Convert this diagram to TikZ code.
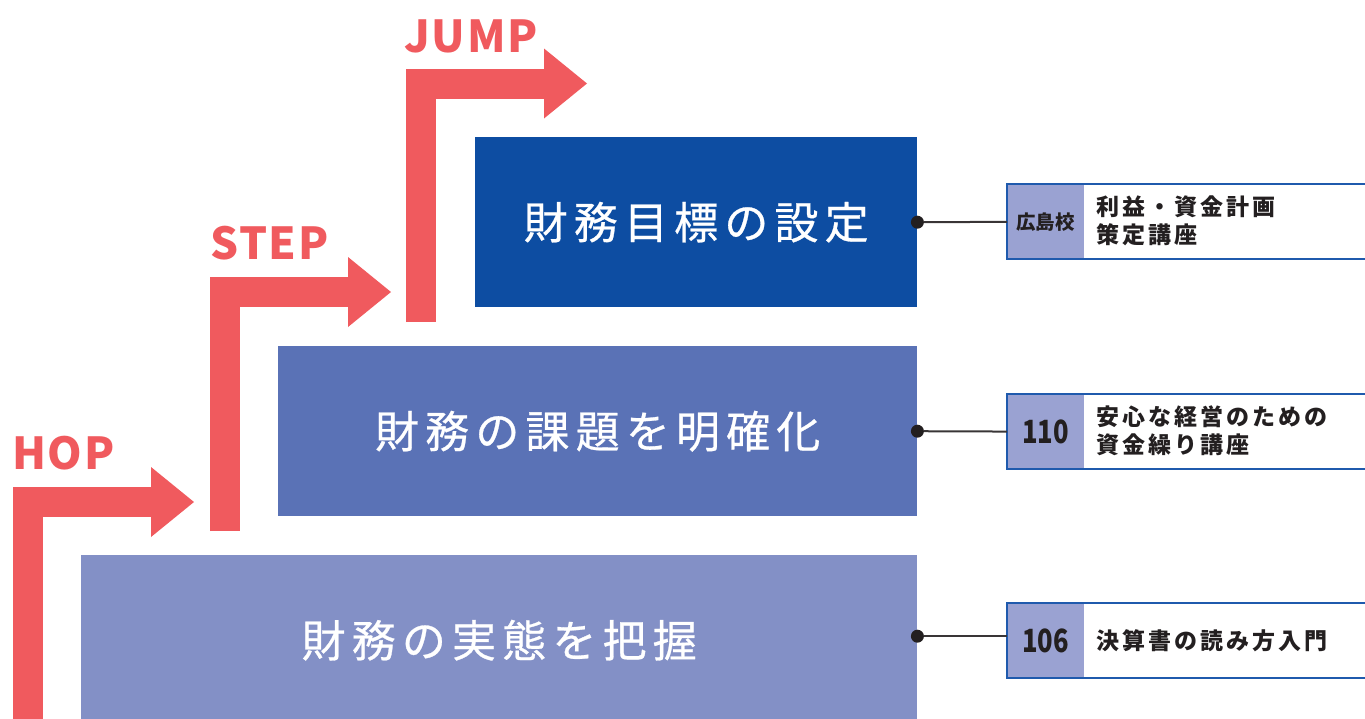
\documentclass[tikz,border=0pt]{standalone}
\usepackage{fontspec}
\setmainfont{Noto Sans CJK JP}
\newfontfamily\stagefont[LetterSpace=14,FakeBold=0.6]{Noto Sans CJK JP}
\newfontfamily\hopfont[LetterSpace=4]{Noto Sans CJK JP}
\newfontfamily\cardfont[LetterSpace=13]{Noto Sans CJK JP}
\newfontfamily\numfont[FakeStretch=0.8]{Noto Sans CJK JP}
\usetikzlibrary{arrows.meta,positioning}

\definecolor{hopred}{HTML}{F05A5E}
\definecolor{goalblue}{HTML}{0D4DA2}
\definecolor{issueblue}{HTML}{5A72B6}
\definecolor{stateblue}{HTML}{8390C6}
\definecolor{tagblue}{HTML}{9AA2D2}
\definecolor{framebl}{HTML}{1F5AAD}
\definecolor{ink}{HTML}{231F20}

\begin{document}
\begin{tikzpicture}[x=1pt, y=-1pt,
	stepline/.style={draw=hopred, line width=30pt, line join=miter, -{Triangle[length=43pt,width=70pt,line width=0pt]}},
	steplabel/.style={anchor=base west, inner sep=0pt, text=hopred, font=\hopfont\bfseries\fontsize{44}{44}\selectfont},
	stagebox/.style={anchor=north west, inner sep=0pt, text=white, minimum height=170pt, font=\stagefont\fontsize{44}{44}\selectfont},
	dot/.style={circle, fill=ink, inner sep=0pt, minimum size=13pt},
	link/.style={draw=ink!90, line width=2pt},
	cardtag/.style={anchor=north west, fill=tagblue, inner sep=0pt, minimum width=77pt, minimum height=75pt, text=ink},
	cardtext/.style={anchor=west, inner sep=0pt, align=left, text=ink, font=\cardfont\bfseries\fontsize{23}{28}\selectfont},
	cardframe/.style={draw=framebl, line width=1.6pt}]
	\useasboundingbox (0,0) rectangle (1365,718);
	% hop step jump arrows
	\draw[stepline] (28,730) |- (194,502);
	\draw[stepline] (224.5,531) |- (391,292);
	\draw[stepline] (421,322) |- (587,83.5);
	\node[steplabel] (hop) at (12,469) {HOP};
	\node[steplabel] (step) at (210,259) {STEP};
	\node[steplabel] (jump) at (404,52) {JUMP};
	% stages
	\node[stagebox, fill=goalblue, minimum width=442pt] (goal) at (475,137) {財務目標の設定\hspace{-6pt}};
	\node[stagebox, fill=issueblue, minimum width=639pt] (issue) at (278,346) {財務の課題を明確化\hspace{-6pt}};
	\node[stagebox, fill=stateblue, minimum width=836pt] (state) at (81,555) {財務の実態を把握\hspace{-6pt}};
	% courses
	\node[cardtag, font=\bfseries\fontsize{19.5}{19.5}\selectfont] (goaltag) at (1007,184) {広島校};
	\node[cardtag, font=\numfont\bfseries\fontsize{32}{32}\selectfont] (issuetag) at (1007,394) {110};
	\node[cardtag, font=\numfont\bfseries\fontsize{32}{32}\selectfont] (statetag) at (1007,603) {106};
	\node[cardtext] (goalcourse) at ([xshift=12pt,yshift=1pt]goaltag.east) {利益・資金計画\\策定講座};
	\node[cardtext] (issuecourse) at ([xshift=12pt,yshift=1pt]issuetag.east) {安心な経営のための\\資金繰り講座};
	\node[cardtext] (statecourse) at ([xshift=12pt]statetag.east) {決算書の読み方入門};
	\draw[cardframe] (goaltag.north west) rectangle ++(380,75);
	\draw[cardframe] (issuetag.north west) rectangle ++(380,75);
	\draw[cardframe] (statetag.north west) rectangle ++(380,75);
	% links
	\node[dot] (goaldot) at (goal.east) {};
	\node[dot] (issuedot) at (issue.east) {};
	\node[dot] (statedot) at ([yshift=4pt]state.east) {};
	\draw[link] (goaldot) -- (goaltag);
	\draw[link] (issuedot) -- (issuetag);
	\draw[link] (statedot) -- (statetag.west |- statedot);
\end{tikzpicture}
\end{document}
